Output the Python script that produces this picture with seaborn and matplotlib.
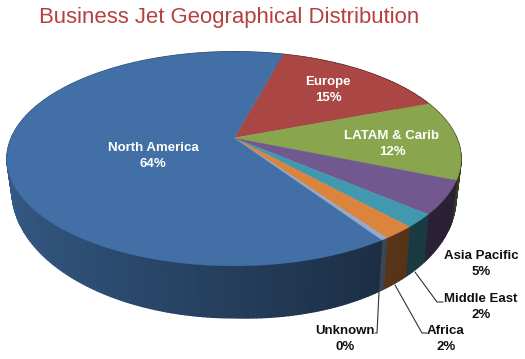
import matplotlib
matplotlib.use("Agg")
import matplotlib.pyplot as plt
import numpy as np
import seaborn as sns

regions = ["North America", "Europe", "LATAM & Carib", "Asia Pacific", "Middle East", "Africa", "Unknown"]
shares = [63.6, 15, 12, 5, 2, 2, 0.4]
hex_colors = ["#4270a6", "#aa4643", "#89a54e", "#71588f", "#4198af", "#db843d", "#93a9cf"]

sns.set_theme(style="white")
plt.rcParams['font.family'] = ['Liberation Sans', 'DejaVu Sans']
palette = sns.color_palette(hex_colors)

fig, ax = plt.subplots(figsize=(5.25, 3.59), dpi=100)
fig.subplots_adjust(0, 0, 1, 1)
ax.set_xlim(0, 525)
ax.set_ylim(359, 0)
ax.axis("off")


# pie seen in perspective: the hub sits above the middle of the ellipse
def top_rim(theta):
    d = 1 + 0.1945 * np.sin(theta)
    return 234 + 222.7 * np.cos(theta) / d, 138 - 103 * np.sin(theta) / d


def bottom_rim(theta):
    x, y = top_rim(theta)
    xb = 234 + (x - 234) * 222 / 227
    # the wall gets a little deeper on the right hand side
    return xb, 192 + (y - 160) * 126 / 106 + 0.03 * max(0, xb - 234)


# clockwise from Europe, which starts at 74.8 deg
order = [1, 2, 3, 4, 5, 6, 0]
cum = np.cumsum([0] + [shares[i] for i in order])
edges = np.radians(74.8 - 3.6 * cum)

# walls first, the top faces cover whatever is at the back
for n, i in enumerate(order):
    steps = max(3, int(abs(edges[n + 1] - edges[n]) * 60))
    t = np.linspace(edges[n], edges[n + 1], steps)
    for a, b in zip(t[:-1], t[1:]):
        shade = max(0.38, 0.55 - 0.25 * np.cos((a + b) / 2))
        xa, ya = top_rim(a)
        xb, yb = top_rim(b)
        xc, yc = bottom_rim(b)
        xd, yd = bottom_rim(a)
        col = tuple(c * shade for c in palette[i])
        ax.fill([xa, xb, xc, xd], [ya, yb, yc, yd], color=col, lw=1.0, zorder=2)

for n, i in enumerate(order):
    t = np.linspace(edges[n], edges[n + 1], 200)
    x, y = top_rim(t)
    ax.fill(np.r_[234, x], np.r_[138, y], color=palette[i], lw=0.3, zorder=3)


def pct(name):
    return f"{name}\n{round(shares[regions.index(name)])}%"


inside = {"North America": (153, 156), "Europe": (328, 90), "LATAM & Carib": (392, 144)}
for name, pos in inside.items():
    ax.text(pos[0], pos[1], pct(name), color="white", fontsize=9.5, fontweight="bold",
            ha="center", va="center", linespacing=1.4, zorder=5)

outside = {"Asia Pacific": (481, 264), "Middle East": (481, 307), "Africa": (446, 339), "Unknown": (345, 339)}
for name, pos in outside.items():
    ax.text(pos[0], pos[1], pct(name), color="#111111", fontsize=9.5, fontweight="bold",
            ha="center", va="center", linespacing=1.4, zorder=5)

ax.plot([415, 437, 443], [272, 302, 302], color="#333333", lw=0.8, zorder=4)
ax.plot([395, 422, 427], [285, 333, 333], color="#333333", lw=0.8, zorder=4)
ax.plot([379, 377, 375], [292, 333, 333], color="#333333", lw=0.8, zorder=4)

ax.text(229.5, 17.5, "Business Jet Geographical Distribution", color="#b5403f", fontsize=15.9,
        ha="center", va="center")

plt.savefig("out.png", dpi=100)
